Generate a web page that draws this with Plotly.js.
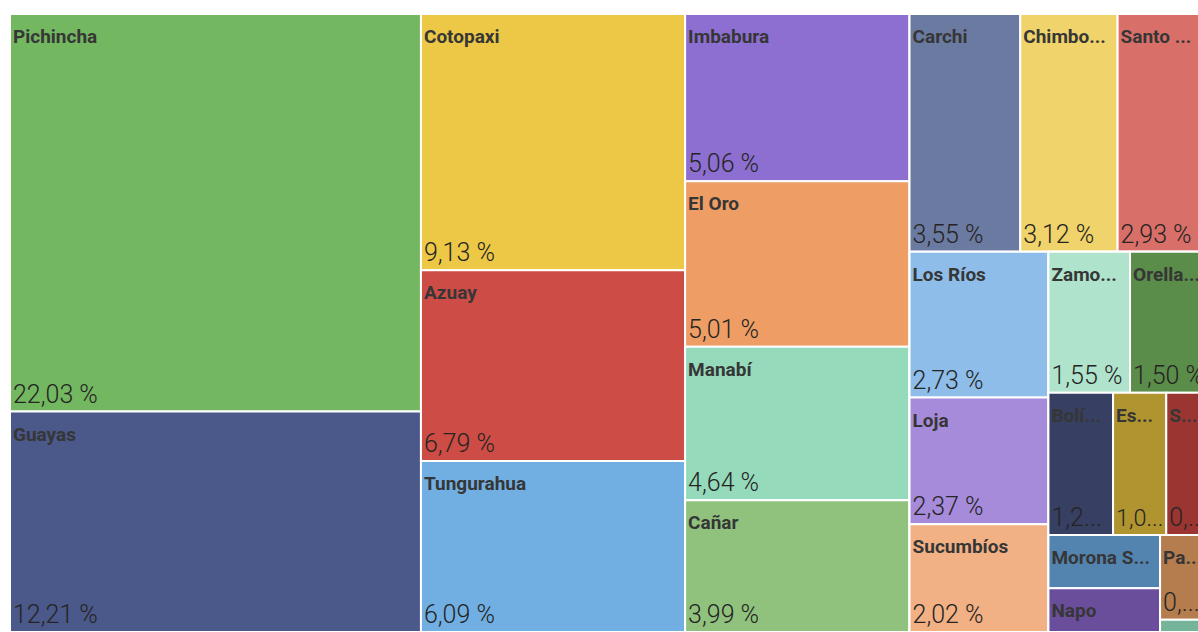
<!DOCTYPE html>
<html><head><meta charset="utf-8">
<script src="https://cdn.plot.ly/plotly-3.0.1.min.js"></script>
<style>html,body{margin:0;padding:0;overflow:hidden;background:#fff}#chart{position:absolute;left:0;top:0;width:1209px;height:640px}</style>
</head><body><div id="chart"></div><script>
// Provinces (Ecuador) and their share (%)
const provinces = ['Pichincha','Guayas','Cotopaxi','Azuay','Tungurahua','Imbabura','El Oro','Manabí','Cañar',
  'Carchi','Chimborazo','Santo Domingo de los Tsáchilas','Los Ríos','Loja','Sucumbíos','Zamora Chinchipe','Orellana',
  'Bolívar','Esmeraldas','Santa Elena','Morona Santiago','Napo','Pastaza','Galápagos'];
const shares = [22.03,12.21,9.13,6.79,6.09,5.06,5.01,4.64,3.99,
  3.55,3.12,2.93,2.73,2.37,2.02,1.55,1.50,
  1.24,1.02,0.82,0.80,0.66,0.56,0.08];
// Labels as shown (truncated where the tile is too small); null = full name
const shownLabels = [null,null,null,null,null,null,null,null,null,
  null,'Chimbo...','Santo ...',null,null,null,'Zamo...','Orella...',
  'Bolí...','Es...','S...','Morona S...',null,'Pa...',''];
// Value texts as shown; null = full formatted value, '' = not visible in the view
const shownValues = [null,null,null,null,null,null,null,null,null,
  null,null,null,null,null,null,null,null,
  '1,2...','1,0...','0,...','','','0,...',''];
const colors = ['#73B761','#4A588A','#ECC846','#CD4C46','#71AFE2','#8D6FD1','#EE9E64','#95DABB','#90C27E',
  '#6B7AA1','#F0D36A','#D96F69','#8DBDE8','#A68BDB','#F1B184','#AFE3CC','#5A8C4A',
  '#373F62','#B0942F','#9B3532','#5384B0','#6A4E9C','#B57C4E','#76B49A'];
// Layout grouping (tile blocks), mirrors the reference arrangement
const groupIds     = ['root','c1','c2','c3','c4','c4top','c4bot','c4a','c4b','r1','r2','r3','m1','m2'];
const groupParents = ['',   'root','root','root','root','c4','c4','c4bot','c4bot','c4b','c4b','c4b','r3','r3'];
const provinceGroup = ['c1','c1','c2','c2','c2','c3','c3','c3','c3',
  'c4top','c4top','c4top','c4a','c4a','c4a','r1','r1',
  'r2','r2','r2','m1','m1','m2','m2'];

const fmt = v => v.toFixed(2).replace('.', ',') + ' %';
const ids = groupIds.concat(provinces);
const parents = groupParents.concat(provinceGroup);
const values = groupIds.map(() => 0).concat(shares);
const labels = groupIds.map(() => '').concat(provinces);
const valTexts = groupIds.map(() => '').concat(shares.map((v,i) => shownValues[i] !== null ? shownValues[i] : fmt(v)));
const nameTexts = groupIds.map(() => '').concat(provinces.map((p,i) => shownLabels[i] !== null ? shownLabels[i] : p));
const fill = groupIds.map(() => '#ffffff').concat(colors);

const H = 640, shift = 8; // label layer offset in px
const base = {
  type: 'treemap', ids, parents, values, labels,
  branchvalues: 'remainder', sort: false, maxdepth: -1,
  tiling: {packing: 'slice-dice', pad: 0},
  pathbar: {visible: false}
};
const traceFill = Object.assign({}, base, {
  marker: {colors: fill, line: {width: 2, color: '#ffffff'}, pad: {t:0,l:0,r:0,b:0}},
  text: valTexts, texttemplate: '%{text}', textposition: 'bottom left',
  textfont: {family: 'Roboto, sans-serif', size: 25, weight: 300, color: '#252423'},
  domain: {x: [0, 1], y: [shift/(H-14), 1]},
  hovertemplate: '%{label}: %{value:.2f} %<extra></extra>'
});
const traceLabels = Object.assign({}, base, {
  marker: {colors: ids.map(() => 'rgba(0,0,0,0)'), line: {width: 0, color: 'rgba(0,0,0,0)'}, pad: {t:0,l:0,r:0,b:0}},
  text: nameTexts, texttemplate: '%{text}', textposition: 'top left',
  textfont: {family: 'Roboto, sans-serif', size: 19, weight: 700, color: '#363636'},
  domain: {x: [0, 1], y: [0, 1 - shift/(H-14)]},
  hoverinfo: 'skip'
});
Plotly.newPlot('chart', [traceFill, traceLabels], {
  width: 1209, height: H,
  margin: {l: 10, r: 0, t: 14, b: 0},
  paper_bgcolor: '#ffffff', showlegend: false
}, {displayModeBar: false});
</script></body></html>
